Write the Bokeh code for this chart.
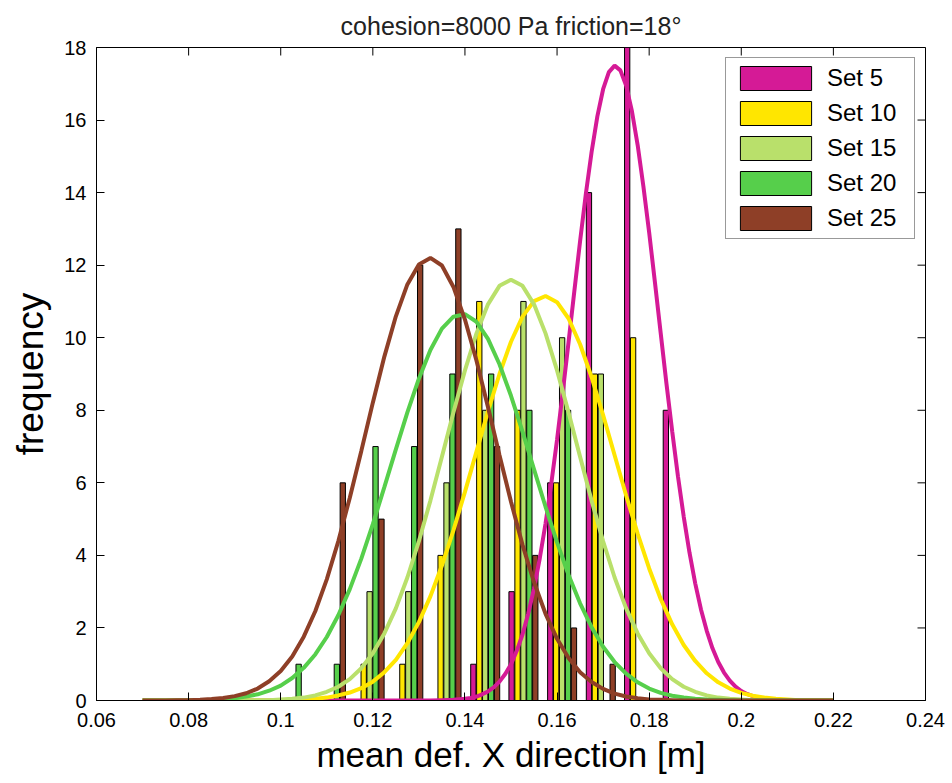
import math
from bokeh.plotting import figure
from bokeh.models import Range1d, FixedTicker, ColumnDataSource, Legend, LegendItem
from bokeh.transform import dodge
from bokeh.embed import file_html
from bokeh.resources import INLINE

# ---------------- data ----------------
series_names = ["Set 5", "Set 10", "Set 15", "Set 20", "Set 25"]
series_colors = ["#D51A96", "#FFE600", "#B9E06B", "#56CF4B", "#8E3F27"]

bin_centers = [0.1026, 0.1109, 0.1193, 0.1277, 0.1360, 0.1444,
               0.1527, 0.1611, 0.1695, 0.1778, 0.1862]

set5_counts = [0, 0, 0, 0, 0, 1, 3, 6, 14, 18, 8]
set10_counts = [0, 0, 1, 1, 4, 11, 8, 6, 9, 10, 0]
set15_counts = [0, 0, 3, 3, 6, 8, 11, 10, 9, 0, 0]
set20_counts = [1, 1, 7, 7, 9, 9, 8, 8, 0, 0, 0]
set25_counts = [0, 6, 5, 12, 13, 7, 4, 2, 1, 0, 0]

# fitted-curve readings (x positions and curve heights)
fit_x = [0.07, 0.0725, 0.075, 0.0775, 0.08, 0.0825, 0.085, 0.0875, 0.09, 0.0925,
         0.095, 0.0975, 0.1, 0.1025, 0.105, 0.1075, 0.11, 0.1125, 0.115, 0.1175,
         0.12, 0.1225, 0.125, 0.1275, 0.13, 0.1325, 0.135, 0.1375, 0.14, 0.1425,
         0.145, 0.1475, 0.15, 0.1525, 0.155, 0.1575, 0.16, 0.1625, 0.165, 0.1675,
         0.17, 0.1725, 0.175, 0.1775, 0.18, 0.1825, 0.185, 0.1875, 0.19, 0.1925,
         0.195, 0.1975, 0.2, 0.2025, 0.205, 0.2075, 0.21, 0.2125, 0.215, 0.2175,
         0.22]

set5_fit_x = [0.07, 0.1325, 0.135, 0.1375,
              0.14, 0.14125, 0.1425, 0.14375, 0.145, 0.14625, 0.1475, 0.14875,
              0.15, 0.15125, 0.1525, 0.15375, 0.155, 0.15625, 0.1575, 0.15875,
              0.16, 0.16125, 0.1625, 0.16375, 0.165, 0.16625, 0.1675, 0.16875,
              0.17, 0.17125, 0.1725, 0.17375, 0.175, 0.17625, 0.1775, 0.17875,
              0.18, 0.18125, 0.1825, 0.18375, 0.185, 0.18625, 0.1875, 0.18875,
              0.19, 0.19125, 0.1925, 0.19375, 0.195, 0.19625, 0.1975, 0.19875,
              0.2, 0.20125, 0.2025, 0.20375, 0.205, 0.20625, 0.2075, 0.20875,
              0.21, 0.2125, 0.22]
set5_fit = [0, 0, 0.01, 0.02,
            0.05, 0.07, 0.11, 0.17, 0.25, 0.36, 0.52, 0.73,
            1.00, 1.37, 1.82, 2.40, 3.09, 3.92, 4.88, 5.98,
            7.19, 8.51, 9.88, 11.28, 12.66, 13.96, 15.12, 16.10,
            16.85, 17.32, 17.50, 17.37, 16.95, 16.25, 15.31, 14.17,
            12.90, 11.53, 10.13, 8.74, 7.42, 6.18, 5.07, 4.08,
            3.23, 2.51, 1.92, 1.44, 1.06, 0.77, 0.55, 0.38,
            0.26, 0.18, 0.12, 0.08, 0.05, 0.03, 0.02, 0.01,
            0.01, 0, 0]
set10_fit = [0, 0, 0, 0, 0, 0, 0, 0, 0, 0,
             0, 0, 0.01, 0.02, 0.03, 0.05, 0.08, 0.14, 0.22, 0.34,
             0.52, 0.78, 1.12, 1.58, 2.16, 2.87, 3.72, 4.69, 5.75, 6.86,
             7.97, 9.00, 9.89, 10.58, 11.01, 11.15, 10.98, 10.53, 9.82, 8.91,
             7.87, 6.76, 5.65, 4.60, 3.64, 2.80, 2.10, 1.53, 1.09, 0.75,
             0.50, 0.33, 0.21, 0.13, 0.08, 0.05, 0.03, 0.01, 0.01, 0,
             0]
set15_fit = [0, 0, 0, 0, 0, 0, 0, 0, 0, 0,
             0.01, 0.01, 0.03, 0.05, 0.08, 0.14, 0.24, 0.38, 0.59, 0.89,
             1.30, 1.85, 2.54, 3.39, 4.39, 5.51, 6.72, 7.94, 9.10, 10.12,
             10.92, 11.43, 11.60, 11.43, 10.92, 10.12, 9.10, 7.94, 6.72, 5.51,
             4.39, 3.39, 2.54, 1.85, 1.30, 0.89, 0.59, 0.38, 0.24, 0.14,
             0.08, 0.05, 0.03, 0.01, 0.01, 0, 0, 0, 0, 0,
             0]
set20_fit = [0, 0, 0, 0, 0.01, 0.01, 0.02, 0.04, 0.06, 0.11,
             0.17, 0.27, 0.41, 0.62, 0.90, 1.27, 1.75, 2.35, 3.07, 3.91,
             4.86, 5.88, 6.92, 7.94, 8.87, 9.66, 10.25, 10.58, 10.65, 10.44,
             9.97, 9.27, 8.40, 7.41, 6.37, 5.34, 4.36, 3.46, 2.68, 2.02,
             1.48, 1.06, 0.74, 0.50, 0.33, 0.21, 0.13, 0.08, 0.05, 0.03,
             0.02, 0.01, 0, 0, 0, 0, 0, 0, 0, 0,
             0]
set25_fit = [0, 0, 0, 0.01, 0.01, 0.02, 0.04, 0.07, 0.12, 0.20,
             0.33, 0.53, 0.81, 1.21, 1.76, 2.46, 3.34, 4.39, 5.59, 6.88,
             8.21, 9.48, 10.59, 11.47, 12.02, 12.20, 11.99, 11.40, 10.50, 9.37,
             8.09, 6.76, 5.48, 4.29, 3.26, 2.39, 1.70, 1.17, 0.78, 0.51,
             0.32, 0.19, 0.11, 0.06, 0.03, 0.02, 0.01, 0, 0, 0,
             0, 0, 0, 0, 0, 0, 0, 0, 0, 0,
             0]

x_ticks = [0.06, 0.08, 0.1, 0.12, 0.14, 0.16, 0.18, 0.2, 0.22, 0.24]
x_tick_labels = ["0.06", "0.08", "0.1", "0.12", "0.14", "0.16", "0.18", "0.2", "0.22", "0.24"]
y_ticks = [0, 2, 4, 6, 8, 10, 12, 14, 16, 18]

title_text = "cohesion=8000 Pa friction=18\u00b0"
x_label = "mean def. X direction [m]"
y_label = "frequency"

counts_all = [set5_counts, set10_counts, set15_counts, set20_counts, set25_counts]
fits_all = [(set5_fit_x, set5_fit), (fit_x, set10_fit), (fit_x, set15_fit),
            (fit_x, set20_fit), (fit_x, set25_fit)]

# ---------------- figure ----------------
FONT = "Liberation Sans"

p = figure(width=950, height=782,
           x_range=Range1d(0.06, 0.24), y_range=Range1d(0, 18),
           output_backend="svg", toolbar_location=None,
           min_border_left=96, min_border_right=25,
           min_border_top=47, min_border_bottom=82,
           title=title_text)
p.background_fill_color = "white"
p.border_fill_color = "white"
p.outline_line_color = "black"
p.outline_line_width = 1
p.xgrid.visible = False
p.ygrid.visible = False

p.title.text_font = FONT
p.title.text_font_size = "25px"
p.title.text_font_style = "normal"
p.title.text_color = "#222222"
p.title.align = "center"
p.title.standoff = 15

# main axes
xa = p.xaxis[0]
xa.ticker = FixedTicker(ticks=x_ticks)
xa.major_label_overrides = {t: l for t, l in zip(x_ticks, x_tick_labels)}
ya = p.yaxis[0]
ya.ticker = FixedTicker(ticks=y_ticks)

for ax in (xa, ya):
    ax.axis_line_color = "black"
    ax.major_tick_line_color = "black"
    ax.major_tick_in = 8
    ax.major_tick_out = 0
    ax.minor_tick_in = 0
    ax.minor_tick_out = 0
    ax.major_label_text_font = FONT
    ax.major_label_text_font_size = "20px"
    ax.major_label_text_color = "black"
    ax.axis_label_text_font = FONT
    ax.axis_label_text_font_style = "normal"
    ax.axis_label_text_color = "black"

xa.axis_label = x_label
xa.axis_label_text_font_size = "35px"
xa.major_label_standoff = 12
xa.axis_label_standoff = 5
ya.axis_label = y_label
ya.axis_label_text_font_size = "37px"
ya.major_label_standoff = 10
ya.axis_label_standoff = 10

# box-style mirror ticks on top and right edges (inward, 8 px)
p.ray(x=x_ticks, y=[p.y_range.end] * len(x_ticks), length=8, length_units="screen",
      angle=-math.pi / 2, line_color="black", line_width=1)
p.ray(x=[p.x_range.end] * len(y_ticks), y=y_ticks, length=8, length_units="screen",
      angle=math.pi, line_color="black", line_width=1)

# grouped bars
bar_step = 0.001287
bar_width = 0.00115
bar_renderers = []
for i, (name, color, counts) in enumerate(zip(series_names, series_colors, counts_all)):
    src = ColumnDataSource(data=dict(x=bin_centers, top=counts))
    r = p.vbar(x=dodge("x", (i - 2) * bar_step, range=p.x_range), top="top", bottom=0,
               width=bar_width, source=src, fill_color=color, line_color="black",
               line_width=1)
    bar_renderers.append(r)

# fitted curves
for color, (fx, fy) in zip(series_colors, fits_all):
    p.line(fx, fy, line_color=color, line_width=4)

legend = Legend(items=[LegendItem(label=n, renderers=[r]) for n, r in zip(series_names, bar_renderers)],
                location="top_right")
legend.label_text_font = FONT
legend.label_text_font_size = "24px"
legend.label_text_color = "black"
legend.glyph_width = 89
legend.glyph_height = 30
legend.label_height = 24
legend.label_width = 82
legend.label_standoff = 7
legend.spacing = 5
legend.padding = 5
legend.margin = 10
legend.border_line_color = "#333333"
legend.border_line_width = 1
legend.background_fill_color = "white"
legend.background_fill_alpha = 1.0
p.add_layout(legend)

open("out.html", "w").write(file_html(p, INLINE))
